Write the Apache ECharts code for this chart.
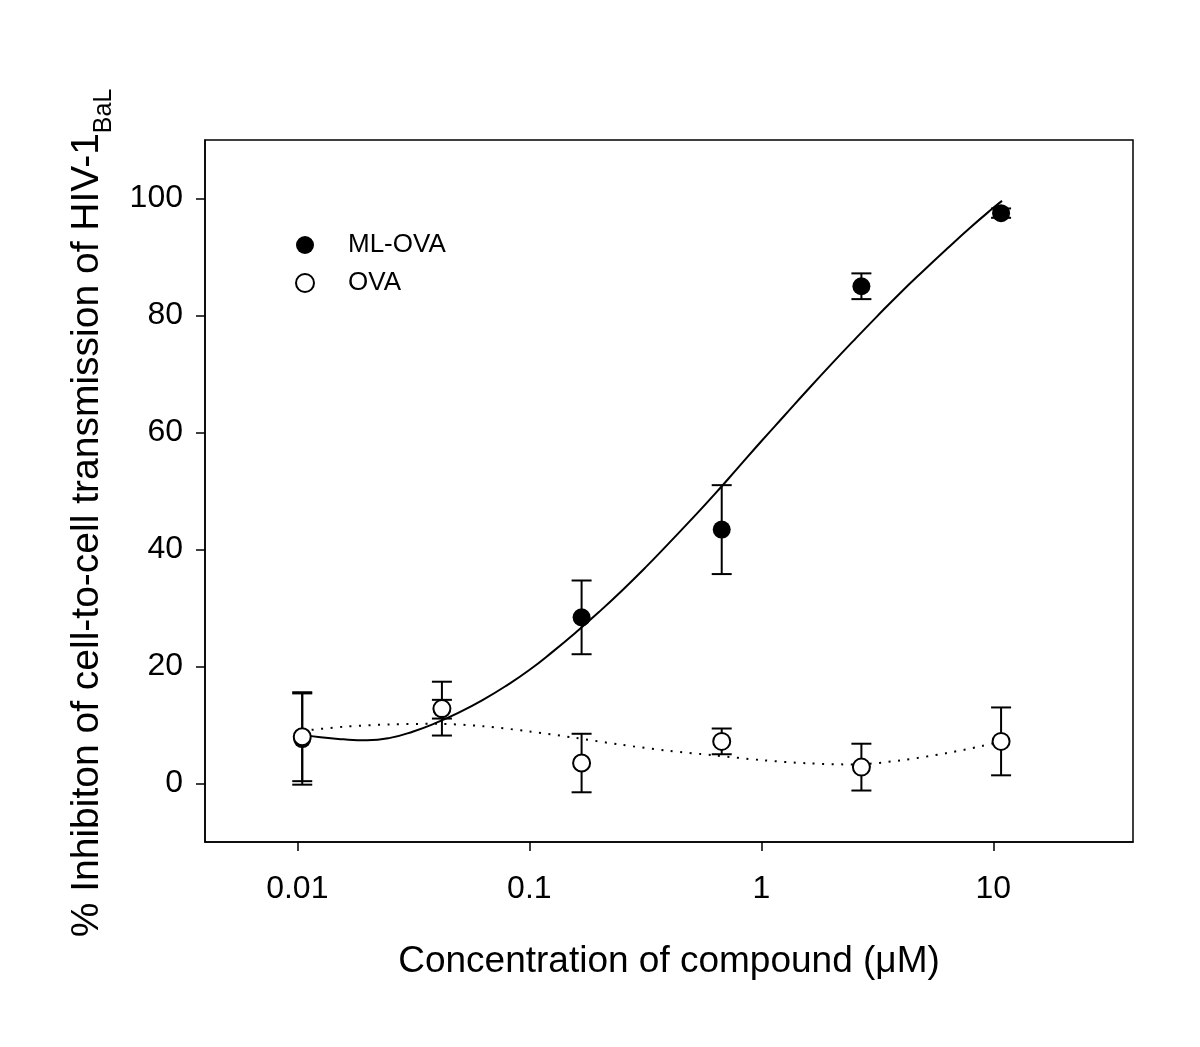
<!DOCTYPE html>
<html>
<head>
<meta charset="utf-8">
<script src="https://cdn.jsdelivr.net/npm/echarts@6/dist/echarts.min.js"></script>
<style>
html,body{margin:0;padding:0;background:#fff;}
#chart{width:1200px;height:1047px;}
</style>
</head>
<body>
<div id="chart"></div>
<script>
// ---- data ----
const conc = [0.0105, 0.042, 0.168, 0.675, 2.7, 10.8];          // µM
const mlOva = [7.6, 12.7, 28.4, 43.4, 85.0, 97.5];
const mlOvaErr = [7.8, 1.6, 6.3, 7.6, 2.2, 0.8];
const ova = [8.0, 12.8, 3.5, 7.2, 2.8, 7.2];
const ovaErr = [7.6, 4.6, 5.0, 2.2, 4.0, 5.8];

// fitted curves (concentration, % inhibition)
const mlFitX = [0.0105, 0.01259, 0.01585, 0.01995, 0.02512, 0.03162, 0.03981, 0.05012, 0.0631, 0.07943,
                0.1, 0.1259, 0.1585, 0.1995, 0.2512, 0.3162, 0.3981, 0.5012, 0.631, 0.7943,
                1.0, 1.259, 1.585, 1.995, 2.512, 3.162, 3.981, 5.012, 6.31, 7.943, 10.0, 10.9];
const mlFitY = [8.4, 7.9, 7.55, 7.4, 7.8, 8.9, 10.4, 12.2, 14.3, 16.7,
                19.4, 22.5, 25.8, 29.3, 33.0, 36.9, 41.0, 45.2, 49.5, 54.0,
                58.5, 62.9, 67.3, 71.6, 75.8, 79.9, 83.9, 87.7, 91.4, 95.0, 98.4, 99.6];
const ovaFitX = [0.0105, 0.01585, 0.0251, 0.0398, 0.0631, 0.1, 0.1585, 0.251, 0.398, 0.631, 1.0, 1.585, 2.512, 3.981, 6.31, 8.91, 10.8];
const ovaFitY = [9.0, 9.7, 10.1, 10.2, 9.8, 8.9, 7.8, 6.6, 5.6, 4.8, 4.0, 3.45, 3.25, 3.95, 5.2, 6.4, 7.2];

const xTicks = [0.01, 0.1, 1, 10];
const xTickLabels = ['0.01', '0.1', '1', '10'];
const yTicks = [0, 20, 40, 60, 80, 100];
const xRange = [0.004, 40];
const yRange = [-10, 110];

const seriesNames = ['ML-OVA', 'OVA'];
const xTitle = 'Concentration of compound (μM)';
const yTitleMain = '% Inhibiton of cell-to-cell transmission of HIV-1';
const yTitleSub = 'BaL';

// ---- build ----
const L = v => Math.log10(v);
const FONT = "'Liberation Sans', Arial, sans-serif";

function errData(vals, errs) {
  return conc.map((c, i) => [L(c), vals[i] - errs[i], vals[i] + errs[i]]);
}
function errRender(params, api) {
  const x = api.value(0);
  const lo = api.coord([x, api.value(1)]);
  const hi = api.coord([x, api.value(2)]);
  const w = 10;
  const st = { stroke: '#000', lineWidth: 2, fill: null };
  return {
    type: 'group',
    children: [
      { type: 'line', shape: { x1: lo[0], y1: lo[1], x2: hi[0], y2: hi[1] }, style: st },
      { type: 'line', shape: { x1: lo[0] - w, y1: lo[1], x2: lo[0] + w, y2: lo[1] }, style: st },
      { type: 'line', shape: { x1: hi[0] - w, y1: hi[1], x2: hi[0] + w, y2: hi[1] }, style: st }
    ]
  };
}

const chart = echarts.init(document.getElementById('chart'), null, { renderer: 'canvas' });
chart.setOption({
  backgroundColor: '#fff',
  animation: false,
  textStyle: { fontFamily: FONT, color: '#000' },
  grid: {
    left: 205, right: 67, top: 140, bottom: 205,
    show: true, borderColor: '#000', borderWidth: 1.5, backgroundColor: 'transparent'
  },
  legend: {
    data: seriesNames,
    orient: 'vertical',
    left: 290, top: 227,
    itemWidth: 76, itemHeight: 18, itemGap: 12,
    textStyle: { fontSize: 26, fontFamily: FONT, color: '#000' }
  },
  xAxis: {
    type: 'value',
    min: L(xRange[0]), max: L(xRange[1]),
    name: xTitle,
    nameLocation: 'middle',
    nameGap: 101,
    nameTextStyle: { fontSize: 37, fontFamily: FONT, color: '#000' },
    axisLine: { show: true, onZero: false, lineStyle: { color: '#000', width: 1.5 } },
    axisTick: { show: true, inside: false, length: 9, lineStyle: { color: '#000', width: 1.5 }, customValues: xTicks.map(L) },
    axisLabel: {
      customValues: xTicks.map(L),
      margin: 31, fontSize: 32, fontFamily: FONT, color: '#000',
      formatter: v => { const i = xTicks.findIndex(t => Math.abs(L(t) - v) < 1e-6); return i >= 0 ? xTickLabels[i] : ''; }
    },
    splitLine: { show: false }
  },
  yAxis: {
    type: 'value',
    min: yRange[0], max: yRange[1],
    name: '{a|' + yTitleMain + '}{b|' + yTitleSub + '}',
    nameLocation: 'middle',
    nameRotate: 90,
    nameGap: 88,
    nameTextStyle: {
      fontSize: 39, fontFamily: FONT, color: '#000',
      padding: [0, 44, 0, 0],
      rich: {
        a: { fontSize: 39, fontFamily: FONT, color: '#000' },
        b: { fontSize: 25, fontFamily: FONT, color: '#000', verticalAlign: 'top', padding: [34, 0, 0, 0] }
      }
    },
    axisLine: { show: true, onZero: false, lineStyle: { color: '#000', width: 1.5 } },
    axisTick: { show: true, inside: false, length: 9, lineStyle: { color: '#000', width: 1.5 }, customValues: yTicks },
    axisLabel: { customValues: yTicks, margin: 22, fontSize: 32, fontFamily: FONT, color: '#000' },
    splitLine: { show: false }
  },
  series: [
    { type: 'custom', name: 'ml-err', renderItem: errRender, data: errData(mlOva, mlOvaErr), z: 1, silent: true },
    { type: 'custom', name: 'ova-err', renderItem: errRender, data: errData(ova, ovaErr), z: 1, silent: true },
    {
      type: 'line', name: 'ml-fit', data: mlFitX.map((x, i) => [L(x), mlFitY[i]]),
      smooth: 0.5, showSymbol: false, symbol: 'none', z: 2,
      lineStyle: { color: '#000', width: 2 }
    },
    {
      type: 'line', name: 'ova-fit', data: ovaFitX.map((x, i) => [L(x), ovaFitY[i]]),
      smooth: 0.3, showSymbol: false, symbol: 'none', z: 2,
      lineStyle: { color: '#000', width: 2, type: [2, 7.5] }
    },
    {
      type: 'scatter', name: seriesNames[0], data: conc.map((c, i) => [L(c), mlOva[i]]),
      symbol: 'circle', symbolSize: 18, z: 3,
      itemStyle: { color: '#000', borderColor: '#000', borderWidth: 0, opacity: 1 }
    },
    {
      type: 'scatter', name: seriesNames[1], data: conc.map((c, i) => [L(c), ova[i]]),
      symbol: 'circle', symbolSize: 17, z: 4,
      itemStyle: { color: '#fff', borderColor: '#000', borderWidth: 2, opacity: 1 }
    }
  ]
});
</script>
</body>
</html>
